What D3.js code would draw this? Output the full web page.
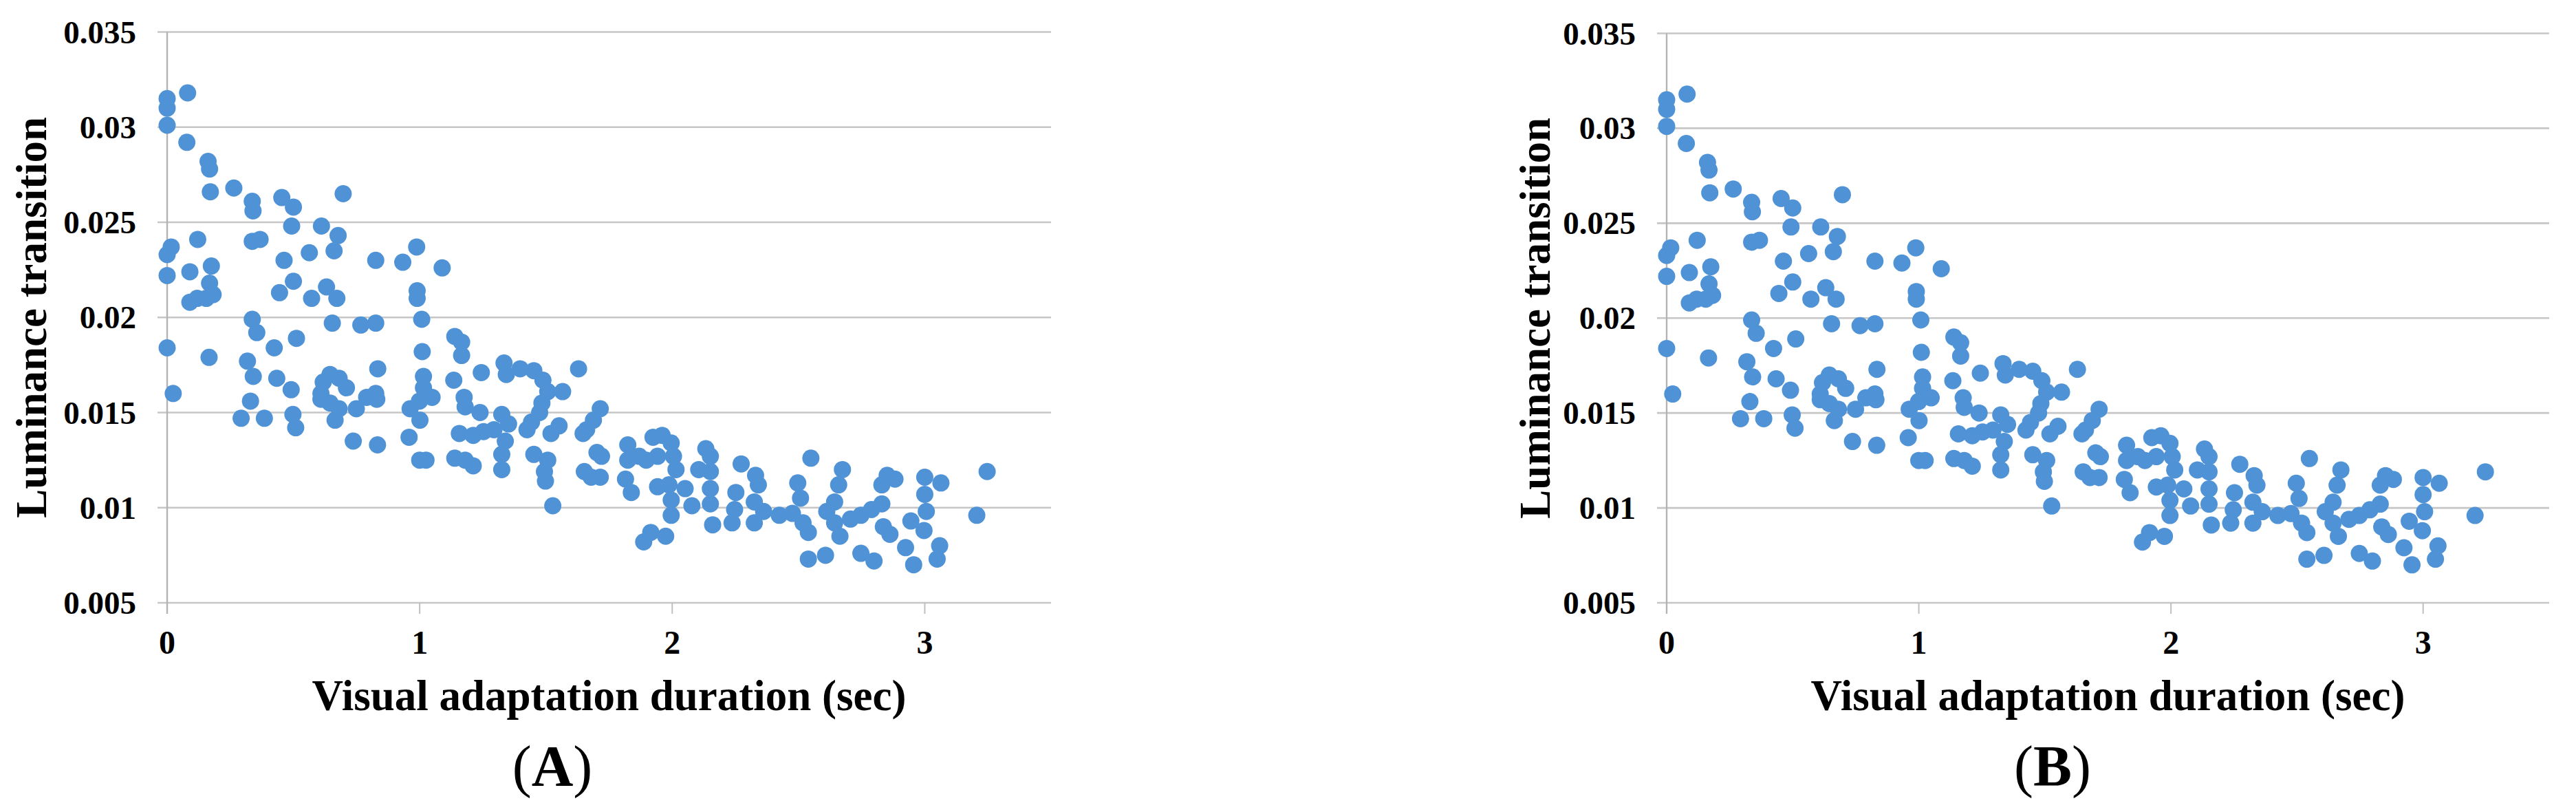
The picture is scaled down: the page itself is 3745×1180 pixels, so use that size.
<!DOCTYPE html>
<html>
<head>
<meta charset="utf-8">
<script src="https://cdn.jsdelivr.net/npm/d3@7"></script>
<style>
  html, body { margin: 0; padding: 0; background: #ffffff; }
  svg { display: block; }
  text { font-family: "Liberation Serif", "Times New Roman", serif; fill: #000; }
</style>
</head>
<body>
<svg id="chart" width="3745" height="1180"></svg>
<script>
const duration = [
  0, 0, 0, 0.081, 0.078, 0.162, 0.168, 0.171, 0.264, 0.337, 0.340, 0.454, 0.5, 0.697, 0.493, 0.611, 0.677, 0.661,
  0, 0.016, 0.121, 0.337, 0.368, 0, 0.09, 0.175, 0.168, 0.182, 0.09, 0.119, 0.155, 0.463, 0.563, 0.826, 0.933,
  0.988, 1.089, 0.5, 0.445, 0.572, 0.631, 0.672, 0.99, 0.99, 1.008, 0.337, 0.654, 0.767, 0.826,
  0.355, 0, 0.166, 0.424, 0.512, 1.01, 0.318, 0.341, 0.434, 0.491, 0.834, 0.645, 0.618, 0.681, 0.71, 0.609,
  0.609, 0.645, 0.681, 0.665, 0.749, 0.79, 0.826, 0.83, 0.024, 0.33, 0.293, 0.385, 0.498, 0.509, 0.737, 0.833,
  1.015, 1.015, 1.049, 0.962, 0.999, 1.001, 0.958, 1.0, 1.025,
  1.139, 1.166, 1.166, 1.135, 1.244, 1.334, 1.343, 1.398, 1.452, 1.488, 1.507, 1.566, 1.629, 1.484, 1.475,
  1.443, 1.425, 1.715, 1.688, 1.661, 1.647, 1.176, 1.18, 1.239, 1.157, 1.212, 1.253, 1.294, 1.325, 1.352,
  1.339, 1.325, 1.325, 1.139, 1.18, 1.212, 1.552, 1.52, 1.452, 1.507, 1.494, 1.498, 1.527, 1.702, 1.72,
  1.652, 1.715, 1.679, 1.824, 1.869, 1.824, 1.815, 1.838, 1.924, 1.96, 1.996, 1.897, 1.942, 2.005, 2.015,
  1.942, 1.987, 2.051, 1.996, 2.078, 1.996, 1.887, 1.915, 1.974, 2.133, 2.151, 2.105, 2.151, 2.151, 2.151, 2.16,
  2.273, 2.252, 2.33, 2.341, 2.247, 2.325, 2.237, 2.325, 2.362, 2.424, 2.497, 2.549, 2.508, 2.476, 2.518,
  2.539, 2.539, 2.607, 2.674, 2.659, 2.643, 2.612, 2.643, 2.664, 2.706, 2.747, 2.789, 2.83, 2.83, 2.851,
  2.882, 2.747, 2.799, 2.836, 2.862, 2.924, 2.956, 3.0, 3.064, 3.0, 3.006, 2.945, 2.997, 3.059, 3.049,
  3.206, 3.247
];
const luminance = [
  0.0315, 0.0310, 0.0301, 0.0318, 0.0292, 0.0282, 0.0278, 0.0266, 0.0268, 0.0261, 0.0256, 0.0263, 0.0258, 0.0265, 0.0248, 0.0248, 0.0243, 0.0235,
  0.0233, 0.0237, 0.0241, 0.0240, 0.0241, 0.0222, 0.0224, 0.0227, 0.0218, 0.0212, 0.0208, 0.0210, 0.0210, 0.0230, 0.0234, 0.0230, 0.0229,
  0.0237, 0.0226, 0.0219, 0.0213, 0.0210, 0.0216, 0.0210, 0.0214, 0.0210, 0.0199, 0.0199, 0.0197, 0.0196, 0.0197,
  0.0192, 0.0184, 0.0179, 0.0184, 0.0189, 0.0182, 0.0177, 0.0169, 0.0168, 0.0162, 0.0173, 0.0170, 0.0166, 0.0168, 0.0163, 0.0160,
  0.0157, 0.0155, 0.0152, 0.0146, 0.0152, 0.0158, 0.0160, 0.0157, 0.0160, 0.0156, 0.0147, 0.0147, 0.0149, 0.0142, 0.0135, 0.0133,
  0.0169, 0.0163, 0.0158, 0.0152, 0.0156, 0.0146, 0.0137, 0.0125, 0.0125,
  0.0190, 0.0187, 0.0180, 0.0167, 0.0171, 0.0176, 0.0170, 0.0173, 0.0172, 0.0167, 0.0161, 0.0161, 0.0173, 0.0155, 0.0150,
  0.0145, 0.0141, 0.0152, 0.0146, 0.0141, 0.0139, 0.0158, 0.0153, 0.0150, 0.0139, 0.0138, 0.0140, 0.0141, 0.0149, 0.0144,
  0.0135, 0.0128, 0.0120, 0.0126, 0.0125, 0.0122, 0.0143, 0.0139, 0.0128, 0.0125, 0.0119, 0.0114, 0.0101, 0.0129, 0.0127,
  0.0119, 0.0116, 0.0116, 0.0133, 0.0127, 0.0125, 0.0115, 0.0108, 0.0137, 0.0138, 0.0134, 0.0125, 0.0127, 0.0127, 0.0120,
  0.0111, 0.0112, 0.0110, 0.0104, 0.0101, 0.0096, 0.0082, 0.0087, 0.0085, 0.0131, 0.0127, 0.0120, 0.0119, 0.0110, 0.0102, 0.0091,
  0.0123, 0.0108, 0.0117, 0.0112, 0.0099, 0.0103, 0.0092, 0.0092, 0.0098, 0.0096, 0.0113, 0.0126, 0.0105, 0.0097, 0.0092,
  0.0087, 0.0073, 0.0075, 0.0120, 0.0112, 0.0103, 0.0098, 0.0092, 0.0085, 0.0094, 0.0096, 0.0099, 0.0102, 0.0112, 0.0117,
  0.0115, 0.0076, 0.0072, 0.0090, 0.0086, 0.0079, 0.0070, 0.0116, 0.0113, 0.0107, 0.0098, 0.0093, 0.0088, 0.0080, 0.0073,
  0.0096, 0.0119
];
const xTicks = [0, 1, 2, 3];
const xTickLabels = ["0", "1", "2", "3"];
const yTicks = [0.005, 0.01, 0.015, 0.02, 0.025, 0.03, 0.035];
const yTickLabels = ["0.005", "0.01", "0.015", "0.02", "0.025", "0.03", "0.035"];
const xTitle = "Visual adaptation duration (sec)";
const yTitle = "Luminance transition";
const panelLetters = ["A", "B"];

const points = duration.map((d, i) => ({ x: d, y: luminance[i] }));

// ---- layout ----
const panels = [
  { letter: panelLetters[0], left: 243, right: 1528, top: 46.5, bottom: 876, ytitleX: 67, labelX: 803 },
  { letter: panelLetters[1], left: 2423, right: 3706, top: 48.5, bottom: 876, ytitleX: 2253, labelX: 2984 }
];

const svg = d3.select("#chart");
const dotColor = "#4f93d6";
const gridColor = "#c6c6c6";

panels.forEach(p => {
  const x = d3.scaleLinear().domain([0, 3.5]).range([p.left, p.right]);
  const y = d3.scaleLinear().domain([0.005, 0.035]).range([p.bottom, p.top]);
  const g = svg.append("g");

  // horizontal gridlines (with outside tick extension on left)
  g.append("g").selectAll("line").data(yTicks).join("line")
    .attr("x1", p.left - 14).attr("x2", p.right)
    .attr("y1", d => y(d)).attr("y2", d => y(d))
    .attr("stroke", gridColor).attr("stroke-width", 2.6);

  // vertical axis line
  g.append("line")
    .attr("x1", x(0)).attr("x2", x(0))
    .attr("y1", y(0.035)).attr("y2", y(0.005) + 16)
    .attr("stroke", "#b4b4b4").attr("stroke-width", 2.4);

  // x tick marks
  g.append("g").selectAll("line").data(xTicks.slice(1)).join("line")
    .attr("x1", d => x(d)).attr("x2", d => x(d))
    .attr("y1", y(0.005)).attr("y2", y(0.005) + 16)
    .attr("stroke", "#c0c0c0").attr("stroke-width", 2);

  // y tick labels
  g.append("g").selectAll("text").data(yTicks).join("text")
    .attr("x", p.left - 45).attr("y", d => y(d) + 16)
    .attr("text-anchor", "end")
    .attr("font-size", 47).attr("font-weight", "bold")
    .text((d, i) => yTickLabels[i]);

  // x tick labels
  g.append("g").selectAll("text").data(xTicks).join("text")
    .attr("x", d => x(d)).attr("y", 950)
    .attr("text-anchor", "middle")
    .attr("font-size", 48).attr("font-weight", "bold")
    .text((d, i) => xTickLabels[i]);

  // axis titles
  g.append("text")
    .attr("x", (p.left + p.right) / 2).attr("y", 1032)
    .attr("text-anchor", "middle")
    .attr("font-size", 63).attr("font-weight", "bold")
    .text(xTitle);

  g.append("text")
    .attr("transform", `translate(${p.ytitleX},${(p.top + p.bottom) / 2}) rotate(-90)`)
    .attr("text-anchor", "middle")
    .attr("font-size", 63).attr("font-weight", "bold")
    .text(yTitle);

  // panel label
  const lab = g.append("text")
    .attr("x", p.labelX).attr("y", 1142)
    .attr("text-anchor", "middle")
    .attr("font-size", 84);
  lab.append("tspan").text("(");
  lab.append("tspan").attr("font-weight", "bold").text(p.letter);
  lab.append("tspan").text(")");

  // points
  g.append("g").selectAll("circle").data(points).join("circle")
    .attr("cx", d => x(d.x)).attr("cy", d => y(d.y))
    .attr("r", 12.5)
    .attr("fill", dotColor);
});
</script>
</body>
</html>
